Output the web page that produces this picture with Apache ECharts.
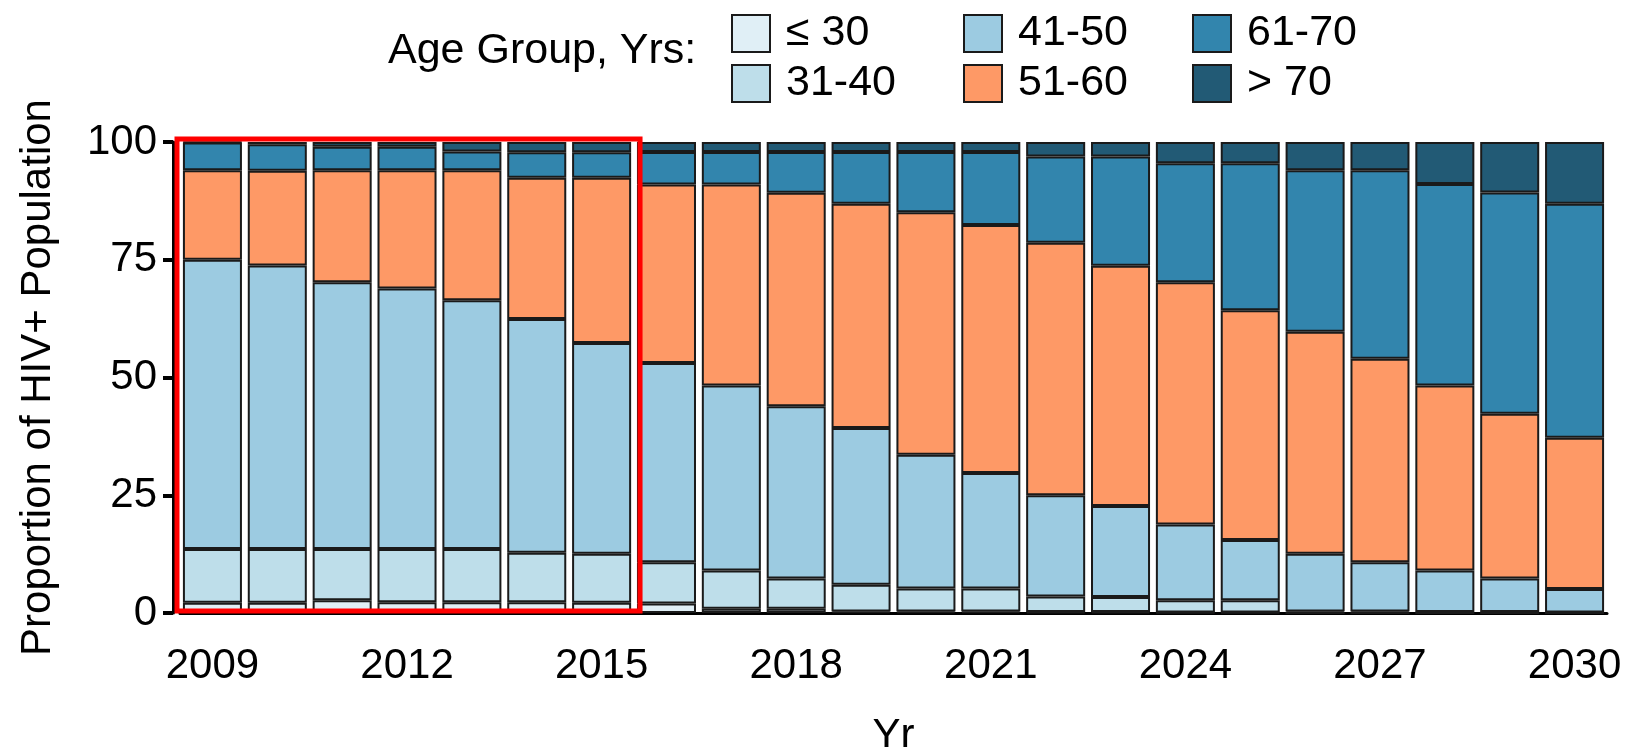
<!DOCTYPE html>
<html>
<head>
<meta charset="utf-8">
<title>HIV+ population by age group</title>
<script src="https://cdn.jsdelivr.net/npm/echarts@6/dist/echarts.min.js"></script>
<style>
  html, body { margin: 0; padding: 0; background: #fff; }
  #chart { width: 1645px; height: 747px; }
</style>
</head>
<body>
<div id="chart"></div>
<script>
// x axis: one bar per year
const years = ['2009', '2010', '2011', '2012', '2013', '2014', '2015', '2016', '2017', '2018', '2019',
  '2020', '2021', '2022', '2023', '2024', '2025', '2026', '2027', '2028', '2029', '2030'];

// share of the HIV+ population (%) per age group, bottom of the stack first
const ageUpTo30 = [2.2, 2.2, 2.7, 2.3, 2.3, 2.3, 2.2, 2.0, 0.9, 0.9, 0.3, 0.3, 0.3, 0.2, 0.2, 0.1, 0.1, 0, 0, 0, 0, 0];
const age31to40 = [11.4, 11.4, 10.9, 11.3, 11.3, 10.5, 10.4, 8.8, 8.1, 6.4, 5.7, 4.9, 4.9, 3.3, 3.2, 2.6, 2.6, 0.3, 0.3, 0.2, 0.2, 0.1];
const age41to50 = [61.4, 60.2, 56.6, 55.3, 52.8, 49.6, 44.7, 42.3, 39.3, 36.6, 33.3, 28.4, 24.5, 21.5, 19.3, 16.1, 12.8, 12.3, 10.5, 8.8, 7.1, 5.0];
const age51to60 = [19.0, 20.1, 23.8, 25.1, 27.6, 30.0, 35.1, 37.9, 42.7, 45.3, 47.6, 51.5, 52.7, 53.6, 51.0, 51.4, 48.8, 47.1, 43.2, 39.3, 35.0, 32.1];
const age61to70 = [5.9, 5.6, 5.0, 5.0, 4.0, 5.4, 5.4, 6.9, 6.9, 8.7, 11.0, 12.8, 15.5, 18.3, 23.2, 25.3, 31.2, 34.3, 40.0, 42.8, 47.0, 49.7];
const ageOver70 = [0.1, 0.5, 1.0, 1.0, 2.0, 2.2, 2.2, 2.1, 2.1, 2.1, 2.1, 2.1, 2.1, 3.1, 3.1, 4.5, 4.5, 6.0, 6.0, 8.9, 10.7, 13.1];

// legend labels, in stack order
const groupNames = ['≤ 30', '31-40', '41-50', '51-60', '61-70', '> 70'];
const groupData = [ageUpTo30, age31to40, age41to50, age51to60, age61to70, ageOver70];
const groupColors = ['#e0eff6', '#bedeea', '#9ccbe1', '#fe9966', '#3285ad', '#225a75'];

const FONT = '"Liberation Sans", Arial, sans-serif';
const FS = 42;

const chart = echarts.init(document.getElementById('chart'));

// the legend is three little columns of two entries each
const legends = [0, 1, 2].map(i => ({
  data: groupNames.slice(i * 2, i * 2 + 2),
  orient: 'vertical',
  left: [731, 963, 1192][i],
  top: 12,
  icon: 'rect',
  itemWidth: 38,
  itemHeight: 37,
  itemGap: 7,
  padding: 0,
  selectedMode: false,
  textStyle: { fontFamily: FONT, fontSize: 43, color: '#000', padding: [0, 0, 0, 11] }
}));

const series = groupNames.map((name, i) => ({
  name: name,
  type: 'bar',
  stack: 'age',
  data: groupData[i],
  barCategoryGap: '9%',
  itemStyle: {
    color: groupColors[i],
    borderColor: '#1a1a1a',
    borderWidth: 2
  },
  emphasis: { disabled: true }
}));

chart.setOption({
  animation: false,
  title: {
    text: 'Age Group, Yrs:',
    left: 388,
    top: 30,
    padding: 0,
    textStyle: { fontFamily: FONT, fontSize: 43, fontWeight: 'normal', color: '#000' }
  },
  legend: legends,
  // fixed plot box, labels may sit outside it
  grid: { left: 180, right: 38, top: 142, bottom: 134, outerBoundsMode: 'none' },
  xAxis: {
    type: 'category',
    data: years,
    name: 'Yr',
    nameLocation: 'middle',
    nameGap: 102,
    nameTextStyle: { fontFamily: FONT, fontSize: FS, color: '#000' },
    axisLine: { lineStyle: { color: '#000', width: 3 } },
    axisTick: { alignWithLabel: true, interval: 2, length: 10, lineStyle: { color: '#000', width: 4 } },
    axisLabel: { interval: 2, margin: 32, fontFamily: FONT, fontSize: FS, color: '#000' }
  },
  yAxis: {
    type: 'value',
    min: 0,
    max: 100,
    interval: 25,
    offset: 7,
    name: 'Proportion of HIV+ Population',
    nameLocation: 'middle',
    nameGap: 114,
    nameTextStyle: { fontFamily: FONT, fontSize: FS, color: '#000' },
    axisLine: { show: true, lineStyle: { color: '#000', width: 3 } },
    axisTick: { show: true, length: 10, lineStyle: { color: '#000', width: 4 } },
    axisLabel: { margin: 16, fontFamily: FONT, fontSize: FS, color: '#000' },
    splitLine: { show: false }
  },
  series: series
});

// red frame round the 2009-2015 bars, placed from the axes
const x09 = chart.convertToPixel({ xAxisIndex: 0 }, '2009');
const x15 = chart.convertToPixel({ xAxisIndex: 0 }, '2015');
const halfBand = (chart.convertToPixel({ xAxisIndex: 0 }, '2010') - x09) / 2;
const yTop = chart.convertToPixel({ yAxisIndex: 0 }, 100);
const yBottom = chart.convertToPixel({ yAxisIndex: 0 }, 0);
const boxLeft = x09 - halfBand - 3;
const boxRight = x15 + halfBand + 6;

chart.setOption({
  graphic: [{
    type: 'rect',
    z: 100,
    shape: { x: boxLeft, y: yTop - 3, width: boxRight - boxLeft, height: yBottom - yTop + 1 },
    style: { fill: 'none', stroke: '#ff0000', lineWidth: 5 }
  }]
});
</script>
</body>
</html>
